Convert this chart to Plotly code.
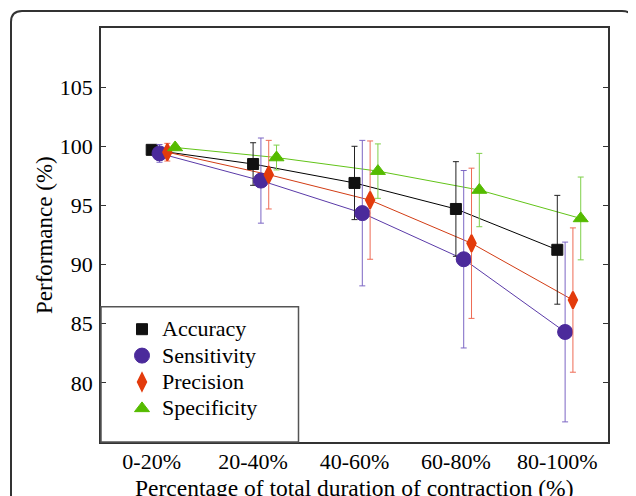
import plotly.graph_objects as go

# ---------------- data ----------------
categories = ["0-20%", "20-40%", "40-60%", "60-80%", "80-100%"]
series_names = ["Accuracy", "Sensitivity", "Precision", "Specificity"]

accuracy = [99.7, 98.5, 96.9, 94.7, 91.25]
accuracy_err = [0.3, 1.8, 3.1, 4.0, 4.6]
sensitivity = [99.4, 97.1, 94.35, 90.45, 84.3]
sensitivity_err = [0.75, 3.6, 6.15, 7.5, 7.6]
precision = [99.5, 97.6, 95.45, 91.8, 87.0]
precision_err = [0.75, 2.9, 5.0, 6.35, 6.1]
specificity = [99.9, 99.05, 97.9, 96.3, 93.9]
specificity_err = [0.2, 1.05, 2.3, 3.1, 3.5]

values = [accuracy, sensitivity, precision, specificity]
errors = [accuracy_err, sensitivity_err, precision_err, specificity_err]

# ---------------- styles ----------------
FONT = "'Liberation Serif', Tinos, 'Times New Roman', 'DejaVu Serif', serif"
offsets = [0.0, 0.077, 0.154, 0.231]
styles = [
    dict(symbol="square", size=11, lw=1, fill="#111111", line="#000000", err="#222222"),
    dict(symbol="circle", size=15, lw=1, fill="#4b2a9b", line="#5a3aa8", err="#7c66c4"),
    dict(symbol="diamond-tall", size=12, lw=2, fill="#e33b0c", line="#d23c14", err="#ee6b55"),
    dict(symbol="triangle-up", size=13, lw=1, fill="#55bb00", line="#62c418", err="#7fd04a"),
]

# page offset: the figure div sits 8px inside the page (body margin)
OFF = 8
W, H = 636 - OFF, 496 - OFF
L, T = 101 - OFF, 28 - OFF
R = W - (608 - OFF)
B = H - (442 - OFF)
PW, PH = W - L - R, H - T - B


def px2x(px):
    """page pixel x -> paper x"""
    return (px - OFF - L) / PW


def py2y(py):
    """page pixel y -> paper y"""
    return (H - B - (py - OFF)) / PH


fig = go.Figure()
cat_pos = list(range(1, len(categories) + 1))

# connecting lines (not in legend)
for name, vals, off, st in zip(series_names, values, offsets, styles):
    fig.add_trace(go.Scatter(
        x=[c + off for c in cat_pos], y=vals, mode="lines",
        line=dict(color=st["line"], width=1), showlegend=False, hoverinfo="skip"))

# markers with error bars
for name, vals, errs, off, st in zip(series_names, values, errors, offsets, styles):
    fig.add_trace(go.Scatter(
        x=[c + off for c in cat_pos], y=vals, mode="markers",
        name=f"<span style='font-size:22px'>{name}</span>",
        marker=dict(symbol=st["symbol"], size=st["size"], color=st["fill"],
                    line=dict(width=st["lw"], color=st["fill"])),
        error_y=dict(type="data", array=errs, color=st["err"], thickness=1, width=3),
    ))

# rounded outer frame (open at the bottom)
fl, fr, ft, fb = px2x(11), px2x(633), py2y(11), py2y(530)
rx, ry = 11 / PW, 11 / PH
frame_path = (f"M{fl},{fb} L{fl},{ft - ry} Q{fl},{ft} {fl + rx},{ft} "
              f"L{fr - rx},{ft} Q{fr},{ft} {fr},{ft - ry} L{fr},{fb}")

fig.update_layout(
    width=W, height=H,
    margin=dict(l=L, r=R, t=T, b=B),
    paper_bgcolor="white", plot_bgcolor="white",
    font=dict(family=FONT, size=21, color="black"),
    showlegend=True,
    legend=dict(x=px2x(122), y=py2y(311), xanchor="left", yanchor="top",
                bgcolor="rgba(0,0,0,0)", borderwidth=0,
                font=dict(family=FONT, size=18, color="black")),
    xaxis=dict(range=[0.5, 5.5], tickmode="array", tickvals=cat_pos, ticktext=categories,
               ticks="", showgrid=False, zeroline=False, showline=True,
               linecolor="#333333", linewidth=1.5, mirror=True,
               tickfont=dict(family=FONT, size=22), ticklabelstandoff=-1),
    xaxis2=dict(range=[0.5, 5.5], overlaying="x", anchor="y", side="bottom",
                tickmode="array", tickvals=[1.5, 2.5, 3.5, 4.5], showticklabels=False,
                ticks="inside", ticklen=5, tickwidth=1, tickcolor="#333333",
                mirror="ticks", showgrid=False, zeroline=False, showline=False),
    yaxis=dict(range=[75, 110], tickmode="array", tickvals=[80, 85, 90, 95, 100, 105],
               ticks="inside", ticklen=5, tickwidth=1, tickcolor="#333333",
               showgrid=False, zeroline=False, showline=True, linecolor="#333333",
               linewidth=1.5, mirror="allticks",
               tickfont=dict(family=FONT, size=22), ticklabelstandoff=2),
    shapes=[
        dict(type="path", xref="paper", yref="paper", path=frame_path,
             line=dict(color="#333333", width=2)),
        dict(type="rect", xref="paper", yref="paper", x0=0, x1=px2x(298.5),
             y0=0, y1=py2y(306.7), line=dict(color="#555555", width=1.5)),
    ],
    annotations=[
        dict(text="Percentage of total duration of contraction (%)", xref="paper", yref="paper",
             x=0.5, y=py2y(488), xanchor="center", yanchor="middle", showarrow=False,
             font=dict(family=FONT, size=23.5)),
        dict(text="Performance (%)", xref="paper", yref="paper", textangle=-90,
             x=px2x(44), y=0.5, xanchor="center", yanchor="middle", showarrow=False,
             font=dict(family=FONT, size=23)),
    ],
)

fig.write_html("out.html")
